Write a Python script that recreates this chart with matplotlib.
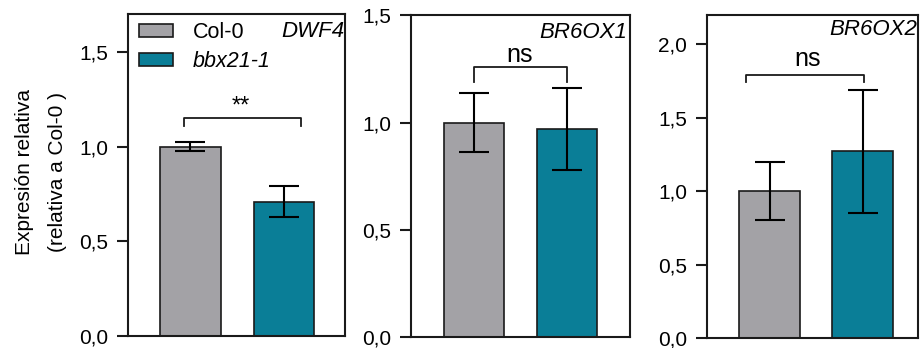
import numpy as np
import matplotlib
matplotlib.use("Agg")
import matplotlib.pyplot as plt
from matplotlib.patches import Patch

plt.rcParams['font.family'] = ['Liberation Sans', 'DejaVu Sans']

# data
genes = ["DWF4", "BR6OX1", "BR6OX2"]
lines = ["Col-0", "bbx21-1"]
col0_mean = [1.0, 1.0, 1.0]
col0_err = [0.025, 0.137, 0.195]
bbx_mean = [0.71, 0.97, 1.27]
bbx_err = [0.08, 0.19, 0.42]
sig = ["**", "ns", "ns"]
ymax = [1.70, 1.50, 2.20]
yticks = [[0.0, 0.5, 1.0, 1.5], [0.0, 0.5, 1.0, 1.5], [0.0, 0.5, 1.0, 1.5, 2.0]]
ytick_labels = [["0,0", "0,5", "1,0", "1,5"], ["0,0", "0,5", "1,0", "1,5"],
                ["0,0", "0,5", "1,0", "1,5", "2,0"]]
# bracket: x0, x1, top y, leg bottom y ; text x, text y
brackets = [(-0.07, 1.18, 1.152, 1.108), (0.0, 1.0, 1.259, 1.19), (-0.25, 1.01, 1.789, 1.74)]
sig_pos = [(0.54, 1.21), (0.495, 1.282), (0.41, 1.851)]

gray = "#a3a2a6"
teal = "#0a7e97"

W, H = 923, 348
fig = plt.figure(figsize=(W / 100, H / 100), dpi=100)

# axes boxes in pixels: left, right, top, bottom
boxes = [(128, 345, 14, 336), (411, 630, 15.3, 337), (706.7, 918, 14.7, 338)]
xlims = [(-0.668, 1.652), (-0.677, 1.677), (-0.674, 1.593)]
gene_pos = [(0.997, 0.947), (0.987, 0.948), (0.995, 0.953)]

axes = []
for i in range(3):
    l, r, t, b = boxes[i]
    ax = fig.add_axes([l / W, (H - b) / H, (r - l) / W, (b - t) / H])
    axes.append(ax)
    x = np.arange(2)
    ax.bar(x, [col0_mean[i], bbx_mean[i]], width=0.65, color=[gray, teal],
           edgecolor="#1a1a1a", linewidth=1.2, zorder=2)
    ax.errorbar(x, [col0_mean[i], bbx_mean[i]], yerr=[col0_err[i], bbx_err[i]],
                fmt="none", ecolor="black", elinewidth=1.5, capsize=11, capthick=1.5, zorder=3)
    ax.set_xlim(*xlims[i])
    ax.set_ylim(0, ymax[i])
    ax.set_yticks(yticks[i])
    ax.set_yticklabels(ytick_labels[i])
    ax.set_xticks([])
    for s in ax.spines.values():
        s.set_linewidth(1.5)
        s.set_color("#1a1a1a")
    ax.tick_params(axis='y', length=8, width=1.5, pad=6, labelsize=15, colors="#1a1a1a")
    ax.tick_params(axis='y', labelcolor="black")

    x0, x1, yt, yb = brackets[i]
    ax.plot([x0, x0, x1, x1], [yb, yt, yt, yb], color="#1a1a1a", lw=1.3, zorder=3)
    if sig[i] == "**":
        ax.text(sig_pos[i][0], sig_pos[i][1], sig[i], ha="center", va="center", fontsize=17)
    else:
        ax.text(sig_pos[i][0], sig_pos[i][1], sig[i], ha="center", va="baseline", fontsize=18)

    ax.text(gene_pos[i][0], gene_pos[i][1], genes[i], transform=ax.transAxes,
            ha="right", va="center", fontsize=16, fontstyle="italic")

# legend in the first panel
handles = [Patch(facecolor=gray, edgecolor="#1a1a1a", linewidth=1.2),
           Patch(facecolor=teal, edgecolor="#1a1a1a", linewidth=1.2)]
leg = axes[0].legend(handles, lines, loc="upper left", bbox_to_anchor=(0.05, 0.975),
                     frameon=False, fontsize=15.5, handlelength=1.6, handleheight=0.55,
                     handletextpad=0.9, labelspacing=0.38, borderpad=0, borderaxespad=0)
leg.get_texts()[1].set_fontstyle("italic")

fig.text(41 / W, (H - 172) / H, "Expresión relativa\n(relativa a Col-0 )", rotation=90,
         ha="center", va="center", fontsize=15, linespacing=1.9, multialignment="center")

fig.savefig("out.png", dpi=100)
